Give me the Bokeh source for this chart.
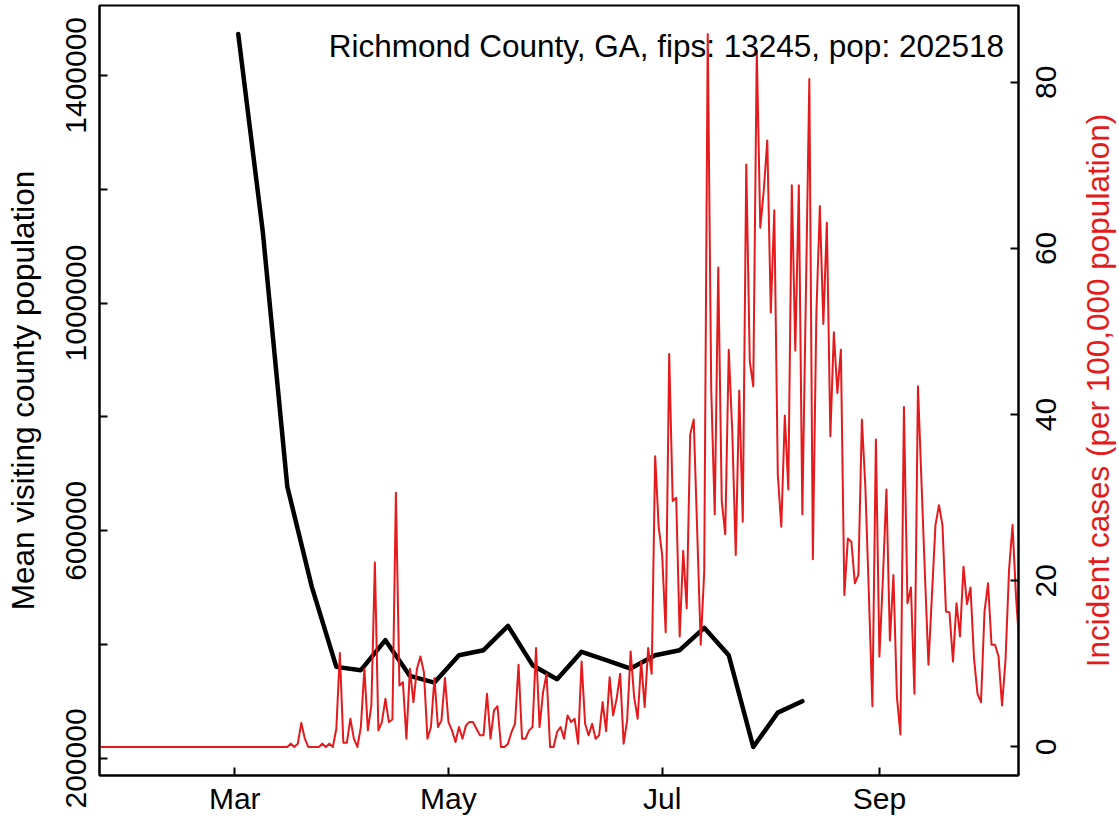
import math
import pandas as pd
from bokeh.plotting import figure
from bokeh.layouts import row
from bokeh.models import (Range1d, LinearAxis, FixedTicker, CustomJSTickFormatter,
                          DatetimeTickFormatter, Label, ColumnDataSource)
from bokeh.embed import file_html
from bokeh.resources import INLINE

county_label = "Richmond County, GA, fips: 13245, pop: 202518"
y_left_title = "Mean visiting county population"
y_right_title = "Incident cases (per 100,000 population)"

visit_dates = ["2020-03-02", "2020-03-09", "2020-03-16", "2020-03-23", "2020-03-30",
               "2020-04-06", "2020-04-13", "2020-04-20", "2020-04-27", "2020-05-04",
               "2020-05-11", "2020-05-18", "2020-05-25", "2020-06-01", "2020-06-08",
               "2020-06-15", "2020-06-22", "2020-06-29", "2020-07-06", "2020-07-13",
               "2020-07-20", "2020-07-27", "2020-08-03", "2020-08-10"]
visit_pop = [1472600, 1125700, 677700, 501500, 360900,
             355100, 407800, 345000, 333300, 381400,
             390200, 433000, 363900, 339300, 387300,
             372700, 357900, 381400, 390200, 429500,
             381400, 220200, 280500, 300600]

case_start = "2020-01-22"
case_rates = [
    0, 0, 0, 0, 0, 0, 0, 0, 0, 0,
    0, 0, 0, 0, 0, 0, 0, 0, 0, 0,
    0, 0, 0, 0, 0, 0, 0, 0, 0, 0,
    0, 0, 0, 0, 0, 0, 0, 0, 0, 0,
    0, 0, 0, 0, 0, 0, 0, 0, 0, 0,
    0, 0, 0, 0, 0,
    0.4, 0, 0.4, 2.9, 1.0, 0, 0, 0, 0, 0.4,
    0, 0.4, 0, 2.2, 11.3, 0.5, 0.5, 3.4, 1.0, 0,
    2.4, 9.4, 2.0, 5.0, 22.2, 2.0, 3.0, 5.8, 3.0, 3.3,
    30.6, 7.4, 7.8, 1.0, 9.4, 5.4, 9.4, 10.9, 9.0, 1.0,
    2.4, 8.3, 2.4, 3.2, 8.3, 3.0, 2.0, 0.6, 2.4, 1.0,
    2.6, 3.0, 3.0, 2.2, 1.4, 1.4, 6.4, 1.0, 4.4, 4.9,
    0, 0, 0.4, 1.8, 2.8, 9.9, 1.0, 1.0, 2.0, 2.4,
    11.9, 2.4, 6.6, 8.8, 0, 0, 1.8, 2.4, 1.0, 3.8,
    3.0, 3.4, 0.4, 10.3, 2.8, 1.4, 2.8, 1.0, 1.4, 5.4,
    1.9, 8.4, 3.8, 5.8, 8.8, 0.4, 3.2, 11.5, 6.0, 3.4,
    10.3, 4.8, 11.9, 8.8, 35.0, 26.5, 23.1, 13.8, 47.3, 29.6,
    30.0, 13.3, 23.6, 16.7, 37.6, 39.4, 25.9, 12.3, 21.1, 85.8,
    43.0, 28.0, 57.7, 29.6, 25.6, 47.8, 38.0, 23.1, 42.9, 27.1,
    70.1, 46.4, 43.4, 83.8, 62.5, 67.0, 73.0, 52.3, 64.6, 32.8,
    26.5, 39.9, 31.0, 67.6, 47.7, 67.6, 28.0, 54.0, 80.4, 22.6,
    52.0, 65.1, 50.9, 63.1, 37.4, 49.9, 42.6, 47.8, 18.3, 25.1,
    24.7, 19.7, 20.7, 39.4, 31.2, 18.3, 4.9, 37.0, 10.9, 20.3,
    31.0, 12.8, 20.7, 6.0, 1.5, 40.9, 17.3, 19.2, 6.4, 43.4,
    32.0, 20.7, 9.9, 18.3, 26.7, 29.1, 26.7, 16.3, 16.2, 10.3,
    17.3, 13.3, 21.7, 17.2, 19.2, 10.7, 6.4, 5.4, 16.3, 19.7,
    12.3, 12.3, 10.9, 5.0, 10.5, 21.3, 26.7, 18.0, 12.0,
]

month_ticks = ["2020-03-01", "2020-05-01", "2020-07-01", "2020-09-01"]
left_ticks = [200000, 400000, 600000, 800000, 1000000, 1200000, 1400000]
left_tick_labels = {200000: "200000", 600000: "600000", 1000000: "1000000", 1400000: "1400000"}
right_ticks = [0, 20, 40, 60, 80]

RED = "#e41a1c"
FONT = "Liberation Sans"

W, H = 1119, 822
FL, FR, FT, FB = 99, 1018, 5, 775      # plot frame edges (page pixels)
LEFT_W = 97                            # width of left text strip
MAIN_W = 933                           # main figure width (97 .. 1030)
RIGHT_W = W - LEFT_W - MAIN_W          # right text strip (1030 .. 1119)
BASE_SHIFT = 0.36                      # baseline correction (em) for Bokeh text boxes


def ms(ts):
    return pd.Timestamp(ts).value / 1e6


case_dates = pd.date_range(case_start, periods=len(case_rates), freq="D")
visit_dt = pd.to_datetime(visit_dates)

# ranges (R style 4% padding on y)
vmin, vmax = min(visit_pop), max(visit_pop)
vr = vmax - vmin
y0, y1 = vmin - 0.04 * vr, vmax + 0.04 * vr
cmin, cmax = min(case_rates), max(case_rates)
cr = cmax - cmin
c0, c1 = cmin - 0.04 * cr, cmax + 0.04 * cr

day = 86400000.0
x0 = ms("2020-03-01") - 38.6 * day
x1 = ms("2020-03-01") + 223.7 * day


def x_at(px):
    return x0 + (px - FL) / (FR - FL) * (x1 - x0)


def y_at(py):
    return y1 - (py - FT) / (FB - FT) * (y1 - y0)


def full_height_range(lo, hi):
    per_px = (hi - lo) / (FB - FT)
    return Range1d(lo - (H - FB) * per_px, hi + FT * per_px)


# ---------------- main plot ----------------
p = figure(width=MAIN_W, height=H, x_axis_type="datetime",
           x_range=Range1d(x0, x1), y_range=Range1d(y0, y1),
           output_backend="svg", toolbar_location=None, frame_align=False,
           min_border_left=FL - LEFT_W, min_border_right=LEFT_W + MAIN_W - FR,
           min_border_top=FT, min_border_bottom=H - FB,
           background_fill_color="white", border_fill_color="white",
           outline_line_color="black", outline_line_width=2)
p.grid.grid_line_color = None
p.extra_y_ranges = {"cases": Range1d(c0, c1)}

blank = CustomJSTickFormatter(code="return '';")

xa = p.xaxis[0]
xa.ticker = FixedTicker(ticks=[ms(t) for t in month_ticks])
xa.formatter = DatetimeTickFormatter(days="%b", months="%b", years="%b", hours="%b",
                                     minutes="%b", seconds="%b", milliseconds="%b")
xa.major_label_standoff = 6
xa.major_label_text_font_size = "30px"

ya = p.yaxis[0]
ya.ticker = FixedTicker(ticks=left_ticks)
ya.formatter = blank

ra = LinearAxis(y_range_name="cases", ticker=FixedTicker(ticks=right_ticks), formatter=blank)
p.add_layout(ra, "right")

for ax in [ya, ra]:
    ax.major_label_text_font_size = "0px"
    ax.major_label_standoff = 0

for ax in [xa, ya, ra]:
    ax.axis_line_width = 2
    ax.axis_line_color = "black"
    ax.major_tick_line_width = 2
    ax.major_tick_in = 8
    ax.major_tick_out = 0
    ax.minor_tick_line_color = None
    ax.major_label_text_font = FONT
    ax.major_label_text_color = "black"

vis_src = ColumnDataSource(dict(x=visit_dt, y=visit_pop))
case_src = ColumnDataSource(dict(x=case_dates, y=case_rates))

p.line("x", "y", source=vis_src, line_color="black", line_width=4.5,
       line_join="round", line_cap="round")
p.line("x", "y", source=case_src, line_color=RED, line_width=2,
       line_join="round", y_range_name="cases")

p.add_layout(Label(x=x_at(1003.5), y=y_at(56.5 - BASE_SHIFT * 31.5), text=county_label,
                   text_align="right", text_baseline="alphabetic", text_font=FONT,
                   text_font_size="31.5px", text_color="black"))


# ---------------- side strips carrying the rotated texts ----------------
def strip(width, lo, hi):
    f = figure(width=width, height=H, x_range=Range1d(0, width),
               y_range=full_height_range(lo, hi),
               output_backend="svg", toolbar_location=None, frame_align=False,
               x_axis_location=None, y_axis_location=None,
               min_border=0, outline_line_color=None,
               background_fill_color="white", border_fill_color="white")
    f.grid.grid_line_color = None
    return f


def vlabel(fig, base_x, y, text, size, color="black"):
    # rotated text reading bottom-to-top; base_x = x of the glyph baseline
    fig.add_layout(Label(x=base_x - BASE_SHIFT * size, y=y, text=text, angle=math.pi / 2,
                         text_align="center", text_baseline="alphabetic",
                         text_font=FONT, text_font_size=f"{size}px", text_color=color))


left = strip(LEFT_W, y0, y1)
for v in left_ticks:
    if v in left_tick_labels:
        vlabel(left, 86.7, v, left_tick_labels[v], 30)
vlabel(left, 34.3, (y0 + y1) / 2, y_left_title, 31.5)

right = strip(RIGHT_W, c0, c1)
rx0 = LEFT_W + MAIN_W
for v in right_ticks:
    vlabel(right, 1056.5 - rx0, v, str(v), 30)
vlabel(right, 1109.3 - rx0, (c0 + c1) / 2, y_right_title, 31.5, RED)

layout = row(left, p, right, spacing=0)
open("out.html", "w").write(file_html(layout, INLINE))
